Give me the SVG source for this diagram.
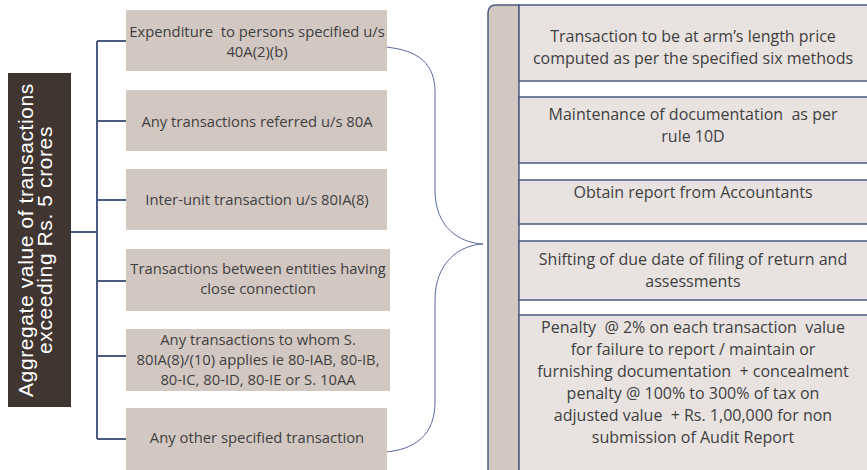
<svg xmlns="http://www.w3.org/2000/svg" width="867" height="470" viewBox="0 0 867 470">
<style>
.lbox{fill:#d3c7c2;}
.rbox{fill:#e8e3e1;stroke:#4b5a83;stroke-width:1.5;}
.lt{font-family:"Open Sans",Lato,sans-serif;font-size:14.8px;fill:#3f3f3f;text-anchor:middle;white-space:pre;}
.rt{font-family:"Open Sans",Lato,sans-serif;font-size:16px;fill:#3f3f3f;text-anchor:middle;white-space:pre;}
.conn{fill:none;stroke:#4b5a83;stroke-width:2;}
.brace{fill:none;stroke:#5a68a0;stroke-width:1;}
</style>
<rect width="867" height="470" fill="#ffffff"/>
<g id="root">
<rect x="8" y="73" width="63" height="334" fill="#403531"/>
<g transform="translate(40,240) rotate(-90)" font-family="'Liberation Sans',Arial,sans-serif" font-size="21" letter-spacing="0.6" fill="#ffffff" text-anchor="middle">
<text x="0" y="-7">Aggregate value of transactions</text>
<text x="0" y="12">exceeding Rs. 5 crores</text>
</g>
</g>
<g id="connectors">
<path class="conn" d="M71,232 H97 M97,41 V439 M97,41 H126 M97,121 H126 M97,200 H126 M97,281 H126 M97,356 H126 M97,439 H126"/>
<path class="brace" d="M385,47 C420,50 435,65 435,92 L435,190 C435,228 460,243 483,244 C460,245 435,262 435,300 L435,402 C435,435 415,450 384,452"/>
</g>
<g id="n1"><rect class="lbox" x="126" y="10" width="261" height="61"/><text class="lt" x="257" y="37">Expenditure  to persons specified u/s</text><text class="lt" x="257" y="57">40A(2)(b)</text></g>
<g id="n2"><rect class="lbox" x="126" y="90" width="261" height="61"/><text class="lt" x="257" y="127">Any transactions referred u/s 80A</text></g>
<g id="n3"><rect class="lbox" x="126" y="169" width="261" height="61"/><text class="lt" x="257" y="205">Inter-unit transaction u/s 80IA(8)</text></g>
<g id="n4"><rect class="lbox" x="126" y="249" width="264" height="62"/><text class="lt" x="258" y="274">Transactions between entities having</text><text class="lt" x="258" y="294">close connection</text></g>
<g id="n5"><rect class="lbox" x="126" y="329" width="264" height="62"/><text class="lt" x="258" y="345">Any transactions to whom S.</text><text class="lt" x="258" y="365">80IA(8)/(10) applies ie 80-IAB, 80-IB,</text><text class="lt" x="258" y="385">80-IC, 80-ID, 80-IE or S. 10AA</text></g>
<g id="n6"><rect class="lbox" x="126" y="408" width="261" height="62"/><text class="lt" x="257" y="443">Any other specified transaction</text></g>
<g id="bar"><path d="M488,475 V13 Q488,5 496,5 H519 V475 Z" fill="#d3c7c2" stroke="#4b5a83" stroke-width="1.5"/></g>
<g id="r1"><rect class="rbox" x="519" y="5" width="350" height="76"/><text class="rt" x="693" y="42">Transaction to be at arm’s length price</text><text class="rt" x="693" y="64">computed as per the specified six methods</text></g>
<g id="r2"><rect class="rbox" x="519" y="97" width="350" height="66"/><text class="rt" x="693" y="120">Maintenance of documentation  as per</text><text class="rt" x="693" y="142">rule 10D</text></g>
<g id="r3"><rect class="rbox" x="519" y="180" width="350" height="44"/><text class="rt" x="693" y="198">Obtain report from Accountants</text></g>
<g id="r4"><rect class="rbox" x="519" y="241" width="350" height="59"/><text class="rt" x="693" y="265">Shifting of due date of filing of return and</text><text class="rt" x="693" y="287">assessments</text></g>
<g id="r5"><rect class="rbox" x="519" y="315" width="350" height="160"/>
<text class="rt" x="693" y="333">Penalty  @ 2% on each transaction  value</text>
<text class="rt" x="693" y="355">for failure to report / maintain or</text>
<text class="rt" x="693" y="377">furnishing documentation  + concealment</text>
<text class="rt" x="693" y="399">penalty @ 100% to 300% of tax on</text>
<text class="rt" x="693" y="421">adjusted value  + Rs. 1,00,000 for non</text>
<text class="rt" x="693" y="443">submission of Audit Report</text></g>
</svg>
